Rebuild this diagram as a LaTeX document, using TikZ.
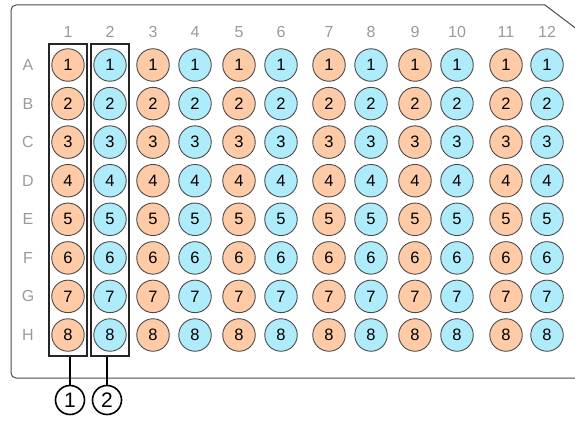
\documentclass[tikz,border=0pt]{standalone}
\usepackage{fontspec}
\setmainfont{Liberation Sans}
\usetikzlibrary{positioning,fit,calc}
\definecolor{peach}{HTML}{FFCBA6}
\definecolor{sky}{HTML}{AEEBFB}
\definecolor{rim}{HTML}{4A4A4A}
\definecolor{label}{HTML}{9A9A9A}
\tikzset{
  well/.style={
    circle, draw=rim, line width=0.9pt, minimum size=32.5pt, inner sep=0pt,
    font=\fontsize{16.5}{18}\selectfont
  },
  lbl/.style={text=label, font=\fontsize{16}{18}\selectfont, inner sep=0pt},
  groupbox/.style={draw=black!85, line width=1.6pt, inner xsep=2.5pt, inner ysep=4pt},
  marker/.style={
    circle, draw=black, line width=1.6pt, fill=white, minimum size=29pt,
    inner sep=0pt, font=\fontsize{21}{23}\selectfont
  },
  plate/.style={draw=rim, line width=1pt}
}
\begin{document}
\begin{tikzpicture}[x=1pt, y=-1pt]
  \useasboundingbox (0,0) rectangle (575,420);
  % plate outline with cut corner
  \draw[plate, rounded corners=5pt] (576,378) -- (11,378) -- (11,5) -- (545,5);
  \draw[plate] (545,5) -- (576,28.5);
  % column labels and wells
  \foreach \c/\x in {1/68,2/110,3/153,4/195,5/239,6/281,7/329,8/371,9/415,10/457,11/506,12/547} {
    \node[lbl] (col-\c) at (\x,32) {\c};
    \pgfmathparse{mod(\c,2)==1 ? "peach" : "sky"}
    \edef\wellfill{\pgfmathresult}
    \foreach \r/\y in {1/65,2/103.6,3/142.1,4/180.7,5/219.3,6/257.9,7/296.4,8/335} {
      \node[well, fill=\wellfill] (w-\c-\r) at (\x,\y) {\r};
    }
  }
  % row labels
  \foreach \r/\l in {1/A,2/B,3/C,4/D,5/E,6/F,7/G,8/H} {
    \node[lbl] (row-\l) at (28,0 |- w-1-\r) {\l};
  }
  % highlighted columns
  \node[groupbox, fit=(w-1-1)(w-1-8)] (gbox1) {};
  \node[groupbox, fit=(w-2-1)(w-2-8)] (gbox2) {};
  \node[marker] (mk1) at (70,400) {1};
  \node[marker] (mk2) at (107,400) {2};
  \draw[line width=1.6pt] (mk1) -- (mk1 |- gbox1.south);
  \draw[line width=1.6pt] (mk2) -- (mk2 |- gbox2.south);
\end{tikzpicture}
\end{document}
